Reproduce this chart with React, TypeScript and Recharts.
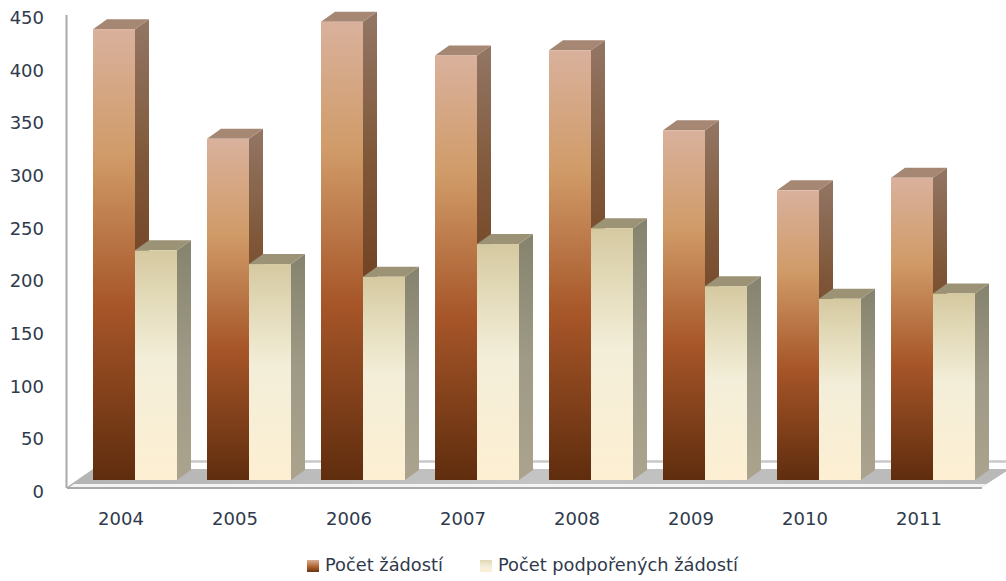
import { BarChart, Bar, XAxis, YAxis, Legend } from 'recharts';

const years = ['2004', '2005', '2006', '2007', '2008', '2009', '2010', '2011'];
const zadosti = [428, 324, 435, 403, 408, 332, 275, 287];
const podporene = [218, 205, 193, 224, 239, 184, 172, 177];
const yTicks = [0, 50, 100, 150, 200, 250, 300, 350, 400, 450];

const chartData = years.map((year, i) => ({
    year,
    zadosti: zadosti[i],
    podporene: podporene[i],
}));

const FONT = '"DejaVu Sans", sans-serif';
const TEXT_COLOR = '#2f3a4c';
const DEPTH_X = 14;
const DEPTH_Y = 10;

// front + side + top of one extruded column
function Bar3D(props: any) {
    const { x, y, width, height, front, side, top } = props;
    const r = x + width;
    const b = y + height;
    return (
        <g>
            <polygon
                points={`${r},${y} ${r + DEPTH_X},${y - DEPTH_Y} ${r + DEPTH_X},${b - DEPTH_Y} ${r},${b}`}
                fill={`url(#${side})`}
            />
            <polygon
                points={`${x},${y} ${x + DEPTH_X},${y - DEPTH_Y} ${r + DEPTH_X},${y - DEPTH_Y} ${r},${y}`}
                fill={top}
            />
            <rect x={x} y={y} width={width} height={height} fill={`url(#${front})`} />
        </g>
    );
}

function YTick({ y, payload }: any) {
    return (
        <text x={44} y={y + 18} textAnchor="end" fontFamily={FONT} fontSize={18} fill={TEXT_COLOR}>
            {payload.value}
        </text>
    );
}

function XTick({ x, payload }: any) {
    return (
        <text x={x - 13.5} y={525} textAnchor="middle" fontFamily={FONT} fontSize={18} fill={TEXT_COLOR}>
            {payload.value}
        </text>
    );
}

const legendSwatches: Record<string, string> = {
    zadosti: 'linear-gradient(#d8ae94, #b0622f 55%, #6a3412)',
    podporene: 'linear-gradient(#e0d8b4, #f3eeda 55%, #fdf0d3)',
};
const legendLefts: Record<string, number> = { zadosti: 307, podporene: 480 };

function ChartLegend({ payload }: any) {
    return (
        <div style={{ position: 'relative', height: 24, fontFamily: FONT, fontSize: 17.8, color: TEXT_COLOR }}>
            {(payload ?? []).map((item: any) => (
                <div
                    key={item.dataKey}
                    style={{ position: 'absolute', left: legendLefts[item.dataKey], top: 0, whiteSpace: 'nowrap', lineHeight: '24px' }}
                >
                    <span
                        style={{
                            display: 'inline-block',
                            width: 12,
                            height: 12,
                            marginRight: 6,
                            verticalAlign: -1,
                            background: legendSwatches[item.dataKey],
                        }}
                    />
                    {item.value}
                </div>
            ))}
        </div>
    );
}

export default function App() {
    return (
        <div style={{ position: 'absolute', left: 0, top: 0, width: 1006, height: 581, overflow: 'hidden', background: '#fff' }}>
            <BarChart
                width={1006}
                height={581}
                data={chartData}
                margin={{ top: 6, right: 16.5, bottom: 7, left: 17.5 }}
                barCategoryGap={15.5}
                barGap={0}
            >
                <defs>
                    <linearGradient id="frontDark" x1="0" y1="0" x2="0" y2="1">
                        <stop offset="0%" stopColor="#d9b19c" />
                        <stop offset="28%" stopColor="#d09b68" />
                        <stop offset="62%" stopColor="#a65528" />
                        <stop offset="100%" stopColor="#5f2d0e" />
                    </linearGradient>
                    <linearGradient id="sideDark" x1="0" y1="0" x2="0" y2="1">
                        <stop offset="0%" stopColor="#937665" />
                        <stop offset="30%" stopColor="#80593a" />
                        <stop offset="65%" stopColor="#6e3d1e" />
                        <stop offset="100%" stopColor="#4a240b" />
                    </linearGradient>
                    <linearGradient id="frontLight" x1="0" y1="0" x2="0" y2="1">
                        <stop offset="0%" stopColor="#d5c9a0" />
                        <stop offset="22%" stopColor="#e3dbba" />
                        <stop offset="48%" stopColor="#f3eed9" />
                        <stop offset="100%" stopColor="#fdefd2" />
                    </linearGradient>
                    <linearGradient id="sideLight" x1="0" y1="0" x2="0" y2="1">
                        <stop offset="0%" stopColor="#85826e" />
                        <stop offset="50%" stopColor="#9e9a86" />
                        <stop offset="100%" stopColor="#aba38d" />
                    </linearGradient>
                    <linearGradient id="floorFill" x1="0" y1="0" x2="1" y2="0">
                        <stop offset="0%" stopColor="#b4b4b4" />
                        <stop offset="50%" stopColor="#c4c4c4" />
                        <stop offset="100%" stopColor="#b8b8b8" />
                    </linearGradient>
                </defs>

                {/* chart frame: left wall, back edge and floor with its pale front lip */}
                <line x1={93} y1={461.5} x2={1006} y2={461.5} stroke="#c9c9c9" strokeWidth={2.5} />
                <polygon points="67,487 93,469 1010,469 982,487" fill="url(#floorFill)" />
                <polygon points="70,487 74,484 986,484 982,487" fill="#f4f4f4" />
                <line x1={67} y1={488} x2={982} y2={488} stroke="#a9a9a9" strokeWidth={2} />
                <line x1={66.5} y1={15} x2={66.5} y2={488} stroke="#a9a9a9" strokeWidth={2} />

                <XAxis
                    dataKey="year"
                    height={70}
                    axisLine={false}
                    tickLine={false}
                    tick={<XTick />}
                    interval={0}
                />
                <YAxis
                    width={60}
                    domain={[0, 450]}
                    ticks={yTicks}
                    axisLine={false}
                    tickLine={false}
                    tick={<YTick />}
                    interval={0}
                />
                <Bar
                    dataKey="zadosti"
                    name="Počet žádostí"
                    isAnimationActive={false}
                    fill="#b0622f"
                    shape={(p: any) => <Bar3D {...p} front="frontDark" side="sideDark" top="#a68774" />}
                />
                <Bar
                    dataKey="podporene"
                    name="Počet podpořených žádostí"
                    isAnimationActive={false}
                    fill="#f3eeda"
                    shape={(p: any) => <Bar3D {...p} front="frontLight" side="sideLight" top="#9c9276" />}
                />
                <Legend
                    verticalAlign="bottom"
                    content={<ChartLegend />}
                    wrapperStyle={{ left: 0, bottom: 4, width: 1006, height: 24 }}
                />
            </BarChart>
        </div>
    );
}
